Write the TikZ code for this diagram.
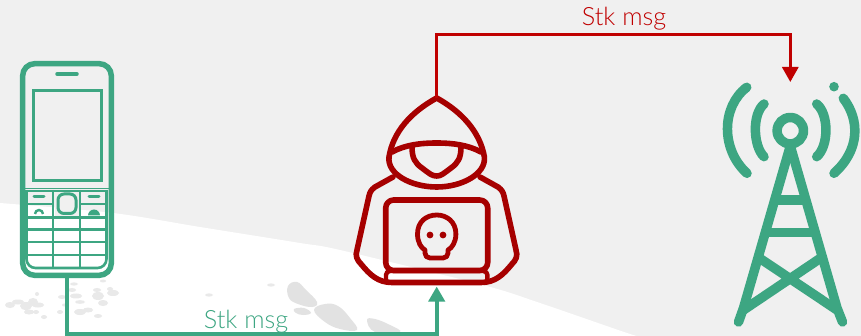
\documentclass[tikz,border=0pt]{standalone}
\usepackage{fontspec}
\setmainfont{Lato Light}
\definecolor{bggray}{HTML}{F0F0F0}
\definecolor{landgray}{HTML}{E2E2E2}
\definecolor{speck}{HTML}{E9E9E9}
\definecolor{mygreen}{HTML}{3DA682}
\definecolor{myred}{HTML}{C00000}
\definecolor{hackred}{HTML}{A60000}
\usetikzlibrary{arrows.meta}
\tikzset{
 anchorbox/.style={inner sep=0pt,outer sep=0pt,minimum width=#1},
 tower/.style={draw=mygreen,line width=9.5pt,line cap=round,line join=round},
 hack/.style={draw=hackred,line width=5.6pt,line cap=round,line join=round},
 keyline/.style={draw=mygreen,line width=2.6pt},
 msg/.style={font=\fontsize{25.2}{28}\selectfont,inner sep=0pt},
 link/.style={-{Triangle[length=15pt,width=16pt]}},
 land/.style={fill=landgray,draw=none}
}
\begin{document}
\begin{tikzpicture}[x=1pt,y=-1pt]
\useasboundingbox (0,0) rectangle (861,336);
\fill[bggray] (0,0) rectangle (861,336);
\fill[white] plot[smooth,tension=0.5] coordinates {(0,203) (113,213) (200,227) (300,243) (340,250) (483,285) (540,303) (627,333) (645,338)} -- (0,338) -- cycle;
% land
\fill[land] plot[smooth cycle,tension=0.7] coordinates {(288,286) (297,282) (306,290) (317,302) (312,307) (298,304) (289,298)};
\fill[land] plot[smooth cycle,tension=0.7] coordinates {(294,309) (304,308) (311,313) (303,315) (296,313)};
\fill[land] plot[smooth cycle,tension=0.7] coordinates {(314,310) (325,304) (338,306) (350,318) (357,330) (340,329) (325,322)};
\fill[land] plot[smooth cycle,tension=0.7] coordinates {(367,320) (375,319) (390,325) (400,332) (375,332)};
\foreach \px/\py/\ra/\rb in {271/285/4/1.6,209/295/4/1.6,10/305/5/3,18/302/6/2.5,26/306/6/4,33/302/5/4,38/305/6/2.5,29/312/5/2.5,36/312/3/2,44/317/3/2,37/294/2/2,
  62/297/4/2,65/305/3/1.6,72/290/4/2,74/284/4/1.6,76/296/6/2.5,80/302/5/1.8,60/312/3/2,80/312/6/3,88/310/5/2.5,98/316/4/2,
  98/296/6/4,103/303/5/3,97/290/4/2,113/293/6/3,110/289/3/2,103/281/3/1.5}
  {\fill[speck] (\px,\py) ellipse [x radius=\ra, y radius=\rb];}
% phone
\draw[mygreen,line width=5.5pt,rounded corners=12pt] (22.7,63.7) rectangle (111.3,275.3);
\draw[mygreen,line width=3.5pt,line cap=round] (57,74) -- (77,74);
\draw[mygreen,line width=3pt] (33,91) rectangle (101.5,181);
\draw[mygreen,line width=1.5pt] (25,188.5) -- (109,188.5);
\draw[keyline] (26.5,190) -- (26.5,258);
\draw[keyline] (106.5,190) -- (106.5,258);
\draw[keyline] (53,190) -- (53,268);
\draw[keyline] (80,190) -- (80,268);
\draw[keyline] (26.5,217.5) -- (106.5,217.5);
\draw[keyline] (26.5,204) -- (53,204) (80,204) -- (106.5,204);
\draw[keyline] (26.5,229.5) -- (106.5,229.5);
\draw[keyline] (26.5,242) -- (106.5,242);
\draw[keyline] (26.5,255) -- (106.5,255);
\draw[keyline,rounded corners=9pt] (26.5,250) -- (26.5,268) -- (106.5,268) -- (106.5,250);
\draw[mygreen,line width=2.6pt] (26.5,191) -- (106.5,191);
\fill[bggray] (54.5,192.4) rectangle (78.5,216);
\draw[mygreen,line width=3pt,rounded corners=6pt] (58,194) rectangle (76,213.5);
\draw[mygreen,line width=3pt,line cap=round] (34,197) -- (44,197) (89,197) -- (99,197);
\draw[mygreen,line width=2.4pt] (35,214) arc (180:360:4);
\fill[mygreen] (88,215.5) arc (180:360:6) -- cycle;
\node[anchorbox=88pt,minimum height=217pt] (phone) at (67,169.5) {};
% hacker
\draw[hack] (436.7,98) .. controls (411,112) and (393,132) .. (389,157) .. controls (387,174) and (411,187) .. (436.7,187) .. controls (462,187) and (486,174) .. (484.4,157) .. controls (480,132) and (462,112) .. (436.7,98) -- cycle;
\draw[hack] (392,152) .. controls (405,145) and (420,143) .. (436.7,143) .. controls (453,143) and (468,145) .. (481,152);
\draw[hack] (412,147) .. controls (412,158) and (415,163) .. (422,168) .. controls (430,174) and (432,176) .. (436.7,176) .. controls (441,176) and (443,174) .. (451,168) .. controls (458,163) and (461,158) .. (461,147);
\draw[hack] (393,177) -- (375,187) .. controls (371,190) and (370,192) .. (369,196) -- (357,250) .. controls (355,256) and (357,260) .. (361,264) .. controls (370,275) and (378,282.5) .. (392,282.5) -- (481,282.5) .. controls (495,282.5) and (503,275) .. (512,264) .. controls (516,260) and (518,256) .. (516,250) -- (504,196) .. controls (503,192) and (502,190) .. (498,187) -- (480,177);
\draw[hack,rounded corners=8pt] (385.7,200) rectangle (487.7,270.5);
\draw[hack,line width=4.4pt,rounded corners=4pt] (386,282) -- (386,271) -- (487.4,271) -- (487.4,282);
\draw[hack,line width=4.8pt] (425,250) .. controls (421,248) and (417.5,242) .. (417.5,234) .. controls (417.5,222) and (426,215) .. (436.7,215) .. controls (447,215) and (455.9,222) .. (455.9,234) .. controls (455.9,242) and (452,248) .. (448,250) -- (448,253) .. controls (448,256) and (446,258) .. (443,258) -- (430,258) .. controls (427,258) and (425,256) .. (425,253) -- cycle;
\fill[hackred] (430,235) circle (3.4) (443,235) circle (3.4);
\node[anchorbox=160pt,minimum height=188pt] (hacker) at (436.7,192.5) {};
% tower
\draw[tower] (790.3,130.7) circle (13.2);
\draw[tower] (790.3,146) -- (743.5,308) -- (738.5,322);
\draw[tower] (790.3,146) -- (837,308) -- (842.5,322);
\draw[tower,line cap=butt] (774,200) -- (807,200) (765,232.7) -- (816,232.7);
\draw[tower,line cap=butt] (743.5,310) -- (820,258.5) (837,310) -- (760,258.5);
\draw[tower] (764,104) .. controls (752,114) and (753,146) .. (764,156.7);
\draw[tower] (746.7,87.3) .. controls (721,107) and (721,150) .. (747,173.3);
\draw[tower] (816.7,104) .. controls (829,114) and (829,146) .. (816.7,156.7);
\draw[tower] (834,173.3) .. controls (860,150) and (860,120) .. (843.3,98.3);
\fill[mygreen] (834,86.7) circle (4.8);
\node[anchorbox=120pt,minimum height=240pt,anchor=north] (mast) at (790.3,82) {};
% connectors
\draw[mygreen,line width=4pt,link] (phone.south) -- ++(0,56) -| (hacker.south);
\draw[myred,line width=3pt,link] (hacker.north) -- ++(0,-64) -| (mast.north);
\node[msg,text=mygreen,anchor=base] (lblg) at (246,328) {Stk msg};
\node[msg,text=myred,anchor=base] (lblr) at (624,26) {Stk msg};
\end{tikzpicture}
\end{document}
